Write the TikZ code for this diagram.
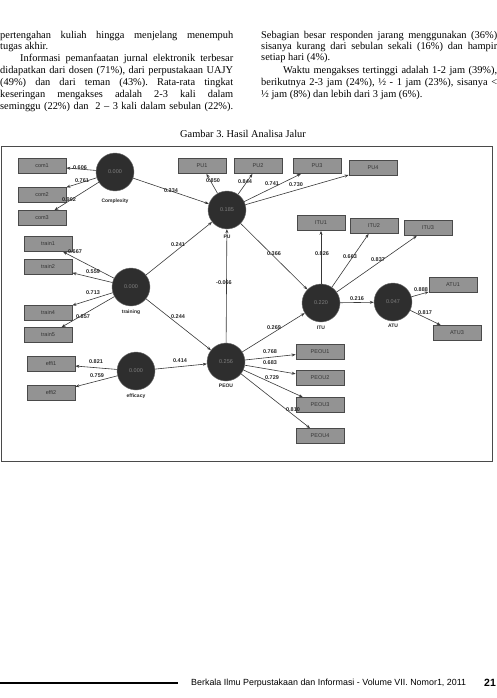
\documentclass[tikz,border=0pt]{standalone}
\usepackage{fontspec}
\setmainfont{Liberation Serif}
\setsansfont{Liberation Sans}
\usetikzlibrary{
    arrows.meta,
    positioning
}
\frenchspacing
\definecolor{boxfill}{HTML}{939393}
\definecolor{boxline}{HTML}{4A4A4A}
\definecolor{latent}{HTML}{2E2E2E}
\definecolor{wire}{HTML}{383838}
\tikzset{
    indicator/.style={draw=boxline, fill=boxfill, line width=0.7pt,
        minimum width=48pt, minimum height=15pt, inner sep=0pt,
        font=\sffamily\fontsize{5.5}{6}\selectfont, text=black!80},
    construct/.style={circle, fill=latent, draw=black!55, minimum size=38pt,
        inner sep=0pt, font=\sffamily\fontsize{5.5}{6}\selectfont, text=black!50},
    cname/.style={font=\sffamily\bfseries\fontsize{5}{6}\selectfont,
        text=black!85, inner sep=0pt},
    coef/.style={font=\sffamily\bfseries\fontsize{5.5}{6}\selectfont,
        text=black!85, inner sep=0pt},
    link/.style={draw=wire, line width=0.6pt, -{Stealth[length=4pt,width=3pt]}},
    bodyline/.style={anchor=base west, inner sep=0pt,
        font=\fontsize{10.4}{12}\selectfont}
}
\newcommand{\fullline}[2]{\makebox[#1][s]{#2}}

\begin{document}
\begin{tikzpicture}[x=1pt, y=-1pt]
\useasboundingbox (0,0) rectangle (497,698);

% Teks kolom kiri
\node[bodyline] (ka) at (0,39) {\fullline{233pt}{pertengahan kuliah hingga menjelang menempuh}};
\node[bodyline] (kb) at (0,50) {tugas akhir.};
\node[bodyline] (kc) at (20,62) {\fullline{213pt}{Informasi pemanfaatan jurnal elektronik terbesar}};
\node[bodyline] (kd) at (0,74) {\fullline{233pt}{didapatkan dari dosen (71\%), dari perpustakaan UAJY}};
\node[bodyline] (ke) at (0,86) {\fullline{233pt}{(49\%) dan dari teman (43\%). Rata-rata tingkat}};
\node[bodyline] (kf) at (0,98) {\fullline{233pt}{keseringan mengakses adalah 2-3 kali dalam}};
\node[bodyline] (kg) at (0,110) {\fullline{233pt}{seminggu (22\%) dan\ \ 2 -- 3 kali dalam sebulan (22\%).}};

% Teks kolom kanan
\node[bodyline] (na) at (261,39) {\fullline{236pt}{Sebagian besar responden jarang menggunakan (36\%)}};
\node[bodyline] (nb) at (261,50) {\fullline{236pt}{sisanya kurang dari sebulan sekali (16\%) dan hampir}};
\node[bodyline] (nc) at (261,61) {setiap hari (4\%).};
\node[bodyline] (nd) at (283,74) {\fullline{214pt}{Waktu mengakses tertinggi adalah 1-2 jam (39\%),}};
\node[bodyline] (ne) at (261,86) {\fullline{236pt}{berikutnya 2-3 jam (24\%), ½ - 1 jam (23\%), sisanya <}};
\node[bodyline] (nf) at (261,98) {½ jam (8\%) dan lebih dari 3 jam (6\%).};

% Judul gambar
\node[bodyline, anchor=base] (judul) at (243,137) {Gambar 3. Hasil Analisa Jalur};

% Bingkai gambar
\draw[boxline, line width=0.8pt] (1,146) rectangle (492,461);

% Indikator
\node[indicator] (com1) at (42,166) {com1};
\node[indicator] (com2) at (42,195) {com2};
\node[indicator] (com3) at (42,218) {com3};
\node[indicator] (train1) at (48,244) {train1};
\node[indicator] (train2) at (48,267) {train2};
\node[indicator] (train4) at (48,313) {train4};
\node[indicator] (train5) at (48,335) {train5};
\node[indicator] (effi1) at (51,364) {effi1};
\node[indicator] (effi2) at (51,393) {effi2};
\node[indicator] (pu1) at (202,166) {PU1};
\node[indicator] (pu2) at (258,166) {PU2};
\node[indicator] (pu3) at (317,166) {PU3};
\node[indicator] (pu4) at (373,168) {PU4};
\node[indicator] (itu1) at (321,223) {ITU1};
\node[indicator] (itu2) at (374,226) {ITU2};
\node[indicator] (itu3) at (428,228) {ITU3};
\node[indicator] (atu1) at (453,285) {ATU1};
\node[indicator] (atu3) at (457,333) {ATU3};
\node[indicator] (peou1) at (320,352) {PEOU1};
\node[indicator] (peou2) at (320,378) {PEOU2};
\node[indicator] (peou3) at (320,405) {PEOU3};
\node[indicator] (peou4) at (320,436) {PEOU4};

% Variabel laten
\node[construct] (cx) at (115,172) {0.000};
\node[construct] (cpu) at (227,210) {0.185};
\node[construct] (ctr) at (131,287) {0.000};
\node[construct] (cef) at (136,371) {0.000};
\node[construct] (cpe) at (226,362) {0.256};
\node[construct] (citu) at (321,303) {0.220};
\node[construct] (catu) at (393,302) {0.047};

\node[cname, below=7pt of cx] (ncx) {Complexity};
\node[cname, below=6pt of cpu] (ncpu) {PU};
\node[cname, below=3pt of ctr] (nctr) {training};
\node[cname, below=3pt of cef] (ncef) {efficacy};
\node[cname, below=3pt of cpe] (ncpe) {PEOU};
\node[cname, below=4pt of citu] (ncitu) {ITU};
\node[cname, below=3pt of catu] (ncatu) {ATU};

% Jalur
\foreach \src/\dst in {cx/com1, cx/com2, cx/com3, cx/cpu,
    ctr/train1, ctr/train2, ctr/train4, ctr/train5, ctr/cpu, ctr/cpe,
    cef/effi1, cef/effi2, cef/cpe,
    cpu/pu1, cpu/pu2, cpu/pu3, cpu/pu4, cpe/cpu, cpu/citu, cpe/citu,
    citu/itu1, citu/itu2, citu/itu3, citu/catu, catu/atu1, catu/atu3,
    cpe/peou1, cpe/peou2, cpe/peou3, cpe/peou4} {
    \draw[link] (\src) -- (\dst);
}

% Koefisien
\foreach \n/\px/\py/\val in {a/80/168/0.606, b/82/181/0.761, c/69/200/0.902,
    d/171/191/0.334, e/75/252/0.667, f/93/272/0.559, g/93/293/0.713,
    h/83/317/0.857, i/178/245/0.241, j/178/317/0.244, k/224/283/-0.066,
    l/96/362/0.821, m/97/376/0.759, n/180/361/0.414, o/213/181/0.850,
    p/245/182/0.844, q/272/184/0.741, r/296/185/0.730, s/274/254/0.366,
    t/322/254/0.826, u/350/257/0.663, v/378/260/0.837, w/421/290/0.888,
    x/357/299/0.216, y/425/313/0.817, z/274/328/0.269, za/270/352/0.768,
    zb/270/363/0.683, zc/272/378/0.729, zd/293/410/0.810} {
    \node[coef] (lab\n) at (\px,\py) {\val};
}

% Kaki halaman
\draw[line width=1.1pt] (0,683) -- (178,683);
\node[anchor=west, inner sep=0pt, font=\sffamily\fontsize{8.9}{10}\selectfont]
    (kaki) at (191,683) {Berkala Ilmu Perpustakaan dan Informasi - Volume VII. Nomor1, 2011};
\node[anchor=west, inner sep=0pt, font=\sffamily\bfseries\fontsize{10.5}{11}\selectfont]
    (hal) at (484,683) {21};
\end{tikzpicture}
\end{document}
